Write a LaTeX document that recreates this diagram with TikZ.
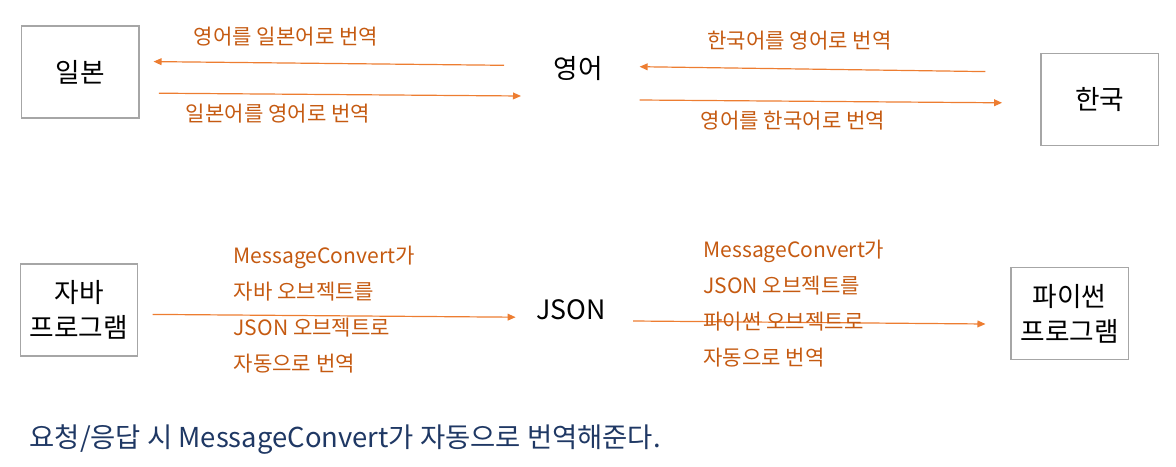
\documentclass[tikz,border=0pt]{standalone}
\usepackage{fontspec}
\setmainfont{Noto Sans CJK KR}
\usepackage{tikz}
\usetikzlibrary{arrows.meta,calc}
\definecolor{boxgray}{RGB}{166,166,166}
\definecolor{arroworange}{RGB}{237,125,49}
\definecolor{labelorange}{RGB}{197,90,17}
\definecolor{captionnavy}{RGB}{31,56,100}

\begin{document}
\begin{tikzpicture}[
      lang/.style={rectangle, draw=boxgray, line width=0.75pt,
                   minimum width=2.93cm, minimum height=2.3cm,
                   align=center, inner sep=0pt,
                   font=\fontsize{19}{25}\selectfont},
      word/.style={inner sep=0pt, font=\fontsize{19}{25}\selectfont},
      note/.style={inner sep=0pt, text=labelorange,
                   font=\fontsize{15}{25.6}\selectfont},
      arrow/.style={-{Triangle[length=0.2cm, width=0.17cm]},
                    line width=0.85pt, color=arroworange}
    ]
      \useasboundingbox (0,0) rectangle (29.4,11.65);
      %% top row: Japanese - English - Korean
      \node[lang] (jp) at (2.01, 9.85) {일본};
      \node[word] (en) at (14.45, 9.925) {영어};
      \node[lang] (kr) at (27.49, 9.16) {한국};
      \draw[arrow] ($(en.center)+(-1.85,0.0925)$) -- ($(jp.east)+(0.35,0.26)$);
      \draw[arrow] ($(jp.east)+(0.485,-0.53)$) -- ($(en.center)+(-1.425,-0.675)$);
      \draw[arrow] ($(kr.west)+(-1.375,0.7)$) -- ($(en.center)+(1.54,0.0575)$);
      \draw[arrow] ($(en.center)+(1.54,-0.775)$) -- ($(kr.west)+(-0.96,-0.08)$);
      \node[note] (enjp) at (7.15, 10.725) {영어를 일본어로 번역};
      \node[note] (jpen) at (6.95, 8.8) {일본어를 영어로 번역};
      \node[note] (kren) at (19.99, 10.6375) {한국어를 영어로 번역};
      \node[note] (enkr) at (19.825, 8.625) {영어를 한국어로 번역};
      %% bottom row: Java - JSON - Python
      \node[lang] (java) at (1.975, 3.9) {자바\\프로그램};
      \node[word] (json) at (14.27, 3.9) {JSON};
      \node[lang] (py) at (26.74, 3.81) {파이썬\\프로그램};
      \draw[arrow] ($(java.east)+(0.36,-0.11)$) -- ($(json.center)+(-1.38,-0.18)$);
      \draw[arrow] ($(json.center)+(1.56,-0.275)$) -- ($(py.west)+(-0.625,-0.26)$);
      \node[note, align=left, anchor=west] (javajson) at (5.835, 3.9)
          {MessageConvert가\\자바 오브젝트를\\JSON 오브젝트로\\자동으로 번역};
      \node[note, align=left, anchor=west] (jsonpy) at (17.58, 4.05)
          {MessageConvert가\\JSON 오브젝트를\\파이썬 오브젝트로\\자동으로 번역};
      %% caption
      \node[word, anchor=base west, text=captionnavy,
            font=\fontsize{19.5}{25}\selectfont] (caption) at (0.7325, 0.4575)
          {요청/응답 시 MessageConvert가 자동으로 번역해준다.};
    \end{tikzpicture}
\end{document}
